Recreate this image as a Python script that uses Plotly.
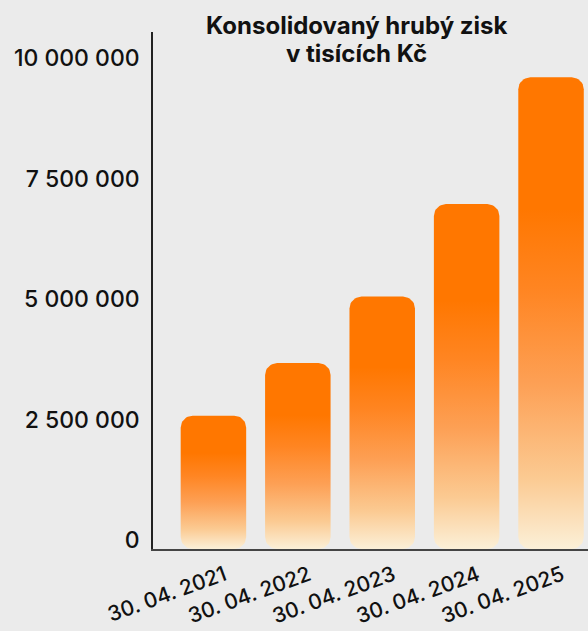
import numpy as np
import plotly.graph_objects as go

# ---- data ----
categories = ["30. 04. 2021", "30. 04. 2022", "30. 04. 2023", "30. 04. 2024", "30. 04. 2025"]
values = [2580000, 3670000, 5050000, 6970000, 9600000]
y_ticks = [0, 2500000, 5000000, 7500000, 10000000]
title_lines = ["Konsolidovaný hrubý zisk", "v tisících Kč"]

# ---- layout geometry ----
W_FIG, H_FIG = 588, 631
M_L, M_R, M_T, M_B = 153, 0, 32, 82
X_RANGE = [-0.716, 4.438]
Y_RANGE = [-187000, 10540000]
BAR_WIDTH = 0.776
RADIUS_PX = 12
FONT = "Inter"

plot_w = W_FIG - M_L - M_R
plot_h = H_FIG - M_T - M_B
dx_px = (X_RANGE[1] - X_RANGE[0]) / plot_w
dy_px = (Y_RANGE[1] - Y_RANGE[0]) / plot_h
rx = RADIUS_PX * dx_px
ry = RADIUS_PX * dy_px

colorscale = [
    [0.0, "#fbf0d8"],
    [0.15, "#fbca92"],
    [0.35, "#fda055"],
    [0.55, "#ff8522"],
    [0.72, "#ff7700"],
    [1.0, "#ff7700"],
]


def rounded_rect(xc, y0, y1):
    x0 = xc - BAR_WIDTH / 2
    x1 = xc + BAR_WIDTH / 2
    t = np.linspace(0, np.pi / 2, 12)
    xs, ys = [], []
    for a in t:  # bottom-left
        xs.append(x0 + rx - rx * np.cos(a))
        ys.append(y0 + ry - ry * np.sin(a))
    for a in t:  # bottom-right
        xs.append(x1 - rx + rx * np.sin(a))
        ys.append(y0 + ry - ry * np.cos(a))
    for a in t:  # top-right
        xs.append(x1 - rx + rx * np.cos(a))
        ys.append(y1 - ry + ry * np.sin(a))
    for a in t:  # top-left
        xs.append(x0 + rx - rx * np.sin(a))
        ys.append(y1 - ry + ry * np.cos(a))
    xs.append(xs[0])
    ys.append(ys[0])
    return xs, ys


fig = go.Figure()
for i, (cat, v) in enumerate(zip(categories, values)):
    xs, ys = rounded_rect(i, Y_RANGE[0], v)
    fig.add_trace(go.Scatter(
        x=xs, y=ys, mode="lines", fill="toself",
        line=dict(width=0, color="rgba(0,0,0,0)"),
        fillgradient=dict(type="vertical", colorscale=colorscale),
        name=cat, showlegend=False, hoverinfo="skip",
    ))

# title lines as annotations (pixel placement converted to paper coords)
title_x_px = 356
title_mid_px = [26, 54]
for line, mid in zip(title_lines, title_mid_px):
    fig.add_annotation(
        text=line,
        xref="paper", yref="paper",
        x=(title_x_px - M_L) / plot_w, xanchor="center",
        y=(H_FIG - M_B - mid) / plot_h, yanchor="middle",
        showarrow=False, align="center",
        font=dict(family=FONT, size=24, color="#111111", weight=700),
    )

fig.update_layout(
    width=W_FIG, height=H_FIG,
    margin=dict(l=M_L, r=M_R, t=M_T, b=M_B, pad=0),
    paper_bgcolor="#ebebeb", plot_bgcolor="#ebebeb",
    separators=", ",
    font=dict(family=FONT, color="#111111", size=19),
    showlegend=False,
)
fig.update_xaxes(
    range=X_RANGE, tickmode="array", tickvals=list(range(len(categories))),
    ticktext=categories, tickangle=-20, showgrid=False, zeroline=False,
    showline=True, linecolor="#444444", linewidth=2, ticks="",
    ticklabelshift=11, ticklabelstandoff=4,
    tickfont=dict(size=21, family=FONT, color="#111111", weight=500),
)
fig.update_yaxes(
    range=Y_RANGE, tickmode="array", tickvals=y_ticks, tickformat=",",
    showgrid=False, zeroline=False, showline=True, linecolor="#222222",
    linewidth=1.5, ticks="", ticklabelstandoff=7,
    tickfont=dict(size=23, family=FONT, color="#111111", weight=500),
)

fig.write_html("out.html", config={"displayModeBar": False},
               post_script="document.body.style.margin='0';")
